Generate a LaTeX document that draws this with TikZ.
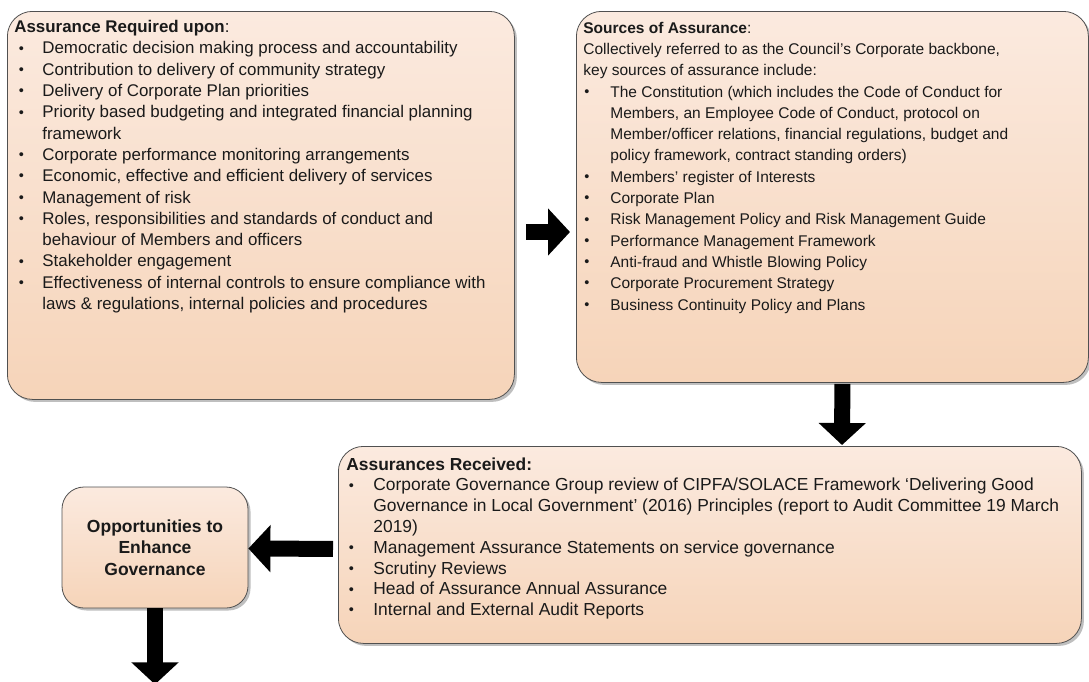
\documentclass[tikz,border=0pt]{standalone}
\usepackage{fontspec}
\setmainfont{Liberation Sans}
\usepackage{enumitem}
\usetikzlibrary{shadows,calc,arrows.meta}
\definecolor{boxtop}{HTML}{FBEADF}
\definecolor{boxbot}{HTML}{F6D4B9}
\definecolor{edge}{HTML}{505050}
\definecolor{ink}{HTML}{1A1A1A}
\newcommand{\smallbul}{\raisebox{0.8pt}{\fontsize{14.5}{14.5}\selectfont\textbullet}}
\newlist{blist}{itemize}{1}
\setlist[blist]{label=\smallbul, nosep, leftmargin=28pt, labelsep=18pt}
\tikzset{
  panel/.style={draw=edge, line width=0.8pt, rounded corners=25pt,
    top color=boxtop, bottom color=boxbot,
    drop shadow={shadow xshift=2.5pt, shadow yshift=-2.5pt, opacity=0.25, fill=black},
    anchor=north west, align=left, text=ink},
  blockarr/.style={draw=black, line width=16pt, -{Triangle[width=46pt,length=22pt]}},
}
\begin{document}
\begin{tikzpicture}[x=1pt,y=-1pt]
\useasboundingbox (0,0) rectangle (1089,681);

\node[panel, inner xsep=7pt, inner ysep=9pt] (b1) at (7,11) {%
\begin{minipage}[t][370pt][t]{493pt}\fontsize{16.9}{21.3}\selectfont\raggedright
\textbf{Assurance Required upon}:
\begin{blist}[leftmargin=28pt,labelsep=18.5pt]
\item Democratic decision making process and accountability
\item Contribution to delivery of community strategy
\item Delivery of Corporate Plan priorities
\item Priority based budgeting and integrated financial planning\newline framework
\item Corporate performance monitoring arrangements
\item Economic, effective and efficient delivery of services
\item Management of risk
\item Roles, responsibilities and standards of conduct and\newline behaviour of Members and officers
\item Stakeholder engagement
\item Effectiveness of internal controls to ensure compliance with\newline laws \& regulations, internal policies and procedures
\end{blist}
\end{minipage}};

\node[panel, inner xsep=7pt, inner ysep=10.5pt] (b2) at (576,11) {%
\begin{minipage}[t][350pt][t]{498pt}\fontsize{15.5}{21.3}\selectfont\raggedright
\textbf{Sources of Assurance}:\newline
Collectively referred to as the Council’s Corporate backbone,\newline
key sources of assurance include:
\begin{blist}[leftmargin=27pt,labelsep=21pt]
\item The Constitution (which includes the Code of Conduct for\newline Members, an Employee Code of Conduct, protocol on\newline Member/officer relations, financial regulations, budget and\newline policy framework, contract standing orders)
\item Members’ register of Interests
\item Corporate Plan
\item Risk Management Policy and Risk Management Guide
\item Performance Management Framework
\item Anti-fraud and Whistle Blowing Policy
\item Corporate Procurement Strategy
\item Business Continuity Policy and Plans
\end{blist}
\end{minipage}};

\node[panel, inner xsep=8pt, inner ysep=11pt] (b3) at (338,446) {%
\begin{minipage}[t][175pt][t]{727pt}\fontsize{17.4}{20.8}\selectfont\raggedright
\textbf{Assurances Received:}
\begin{blist}[leftmargin=27pt,labelsep=19.5pt]
\item Corporate Governance Group review of CIPFA/SOLACE Framework ‘Delivering Good\newline Governance in Local Government’ (2016) Principles (report to Audit Committee 19 March\newline 2019)
\item Management Assurance Statements on service governance
\item Scrutiny Reviews
\item Head of Assurance Annual Assurance
\item Internal and External Audit Reports
\end{blist}
\end{minipage}};

\node[panel, anchor=center, align=center, rounded corners=22pt, minimum width=186pt, minimum height=121pt, inner sep=2pt,
  font=\fontsize{17.5}{21.5}\selectfont\bfseries] (b4) at (155,547.5) {Opportunities to\\Enhance\\Governance};

\coordinate (r1) at ($(b1.north east)+(11,221)$);
\coordinate (r2) at ($(b2.north west)+(-6,221)$);
\draw[blockarr] (r1) -- (r2);
\draw[blockarr] ($(b2.south)+(10,1)$) -- ($(b3.north west)+(504,-1)$);
\draw[blockarr] ($(b3.west)+(-5,4)$) -- ($(b4.east)+(0,1)$);
\draw[blockarr] (b4.south) -- ($(b4.south)+(0,76)$);
\end{tikzpicture}
\end{document}
